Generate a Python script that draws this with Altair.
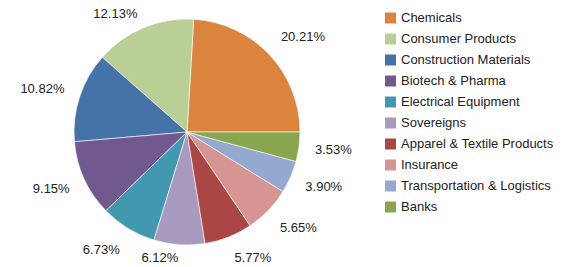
import altair as alt
import pandas as pd

categories = ["Chemicals", "Consumer Products", "Construction Materials", "Biotech & Pharma",
              "Electrical Equipment", "Sovereigns", "Apparel & Textile Products", "Insurance",
              "Transportation & Logistics", "Banks"]
values = [20.21, 12.13, 10.82, 9.15, 6.73, 6.12, 5.77, 5.65, 3.90, 3.53]
colors = ["#DB843D", "#B9CF95", "#4572A7", "#71588F", "#4198AF",
          "#A99BBF", "#AA4643", "#D69492", "#93A9CF", "#89A54E"]

W, H = 358, 246          # plot area
PIE_R = 113              # pie radius
LABEL_RX = 129           # horizontal distance of label edge
LABEL_RY = 138           # vertical distance of label centre

df = pd.DataFrame({"category": categories, "value": values, "order": list(range(len(values)))})

base = alt.Chart(df).transform_window(
    cum="sum(value)", sort=[alt.SortField("order")]
).transform_joinaggregate(
    total="sum(value)"
).transform_calculate(
    a0="PI/2 - 2*PI*(datum.cum - datum.value)/datum.total",
    a1="PI/2 - 2*PI*datum.cum/datum.total",
    ang="PI/2 - 2*PI*(datum.cum - datum.value/2)/datum.total",
    label="format(datum.value, '.2f') + '%'",
).transform_calculate(
    lx=f"{W/2} + {LABEL_RX}*sin(datum.ang)",
    ly=f"clamp({H/2} - {LABEL_RY}*cos(datum.ang), 5, 249)",
)

arcs = base.mark_arc(outerRadius=PIE_R, stroke="#ffffff", strokeWidth=0.6).encode(
    theta=alt.Theta("a0:Q", scale=None),
    theta2="a1:Q",
    color=alt.Color(
        "category:N",
        scale=alt.Scale(domain=categories, range=colors),
        legend=alt.Legend(
            title=None, orient="none", legendX=376, legendY=2.5,
            symbolType="square", symbolSize=121, symbolStrokeWidth=0,
            labelFont="Liberation Sans", labelFontSize=13, labelColor="#222222",
            rowPadding=7, labelOffset=4, padding=0, labelLimit=300,
        ),
    ),
)

text_style = dict(font="Liberation Sans", fontSize=13, color="#222222", baseline="middle")

labels_right = base.transform_filter("sin(datum.ang) >= 0").mark_text(
    align="left", **text_style
).encode(
    x=alt.X("lx:Q", scale=None),
    y=alt.Y("ly:Q", scale=None),
    text="label:N",
)

labels_left = base.transform_filter("sin(datum.ang) < 0").mark_text(
    align="right", **text_style
).encode(
    x=alt.X("lx:Q", scale=None),
    y=alt.Y("ly:Q", scale=None),
    text="label:N",
)

chart = alt.layer(arcs, labels_right, labels_left).properties(
    width=W, height=H, padding=0
).configure_view(stroke=None)

chart.save("out.html", embed_options={"renderer": "svg", "actions": False})
